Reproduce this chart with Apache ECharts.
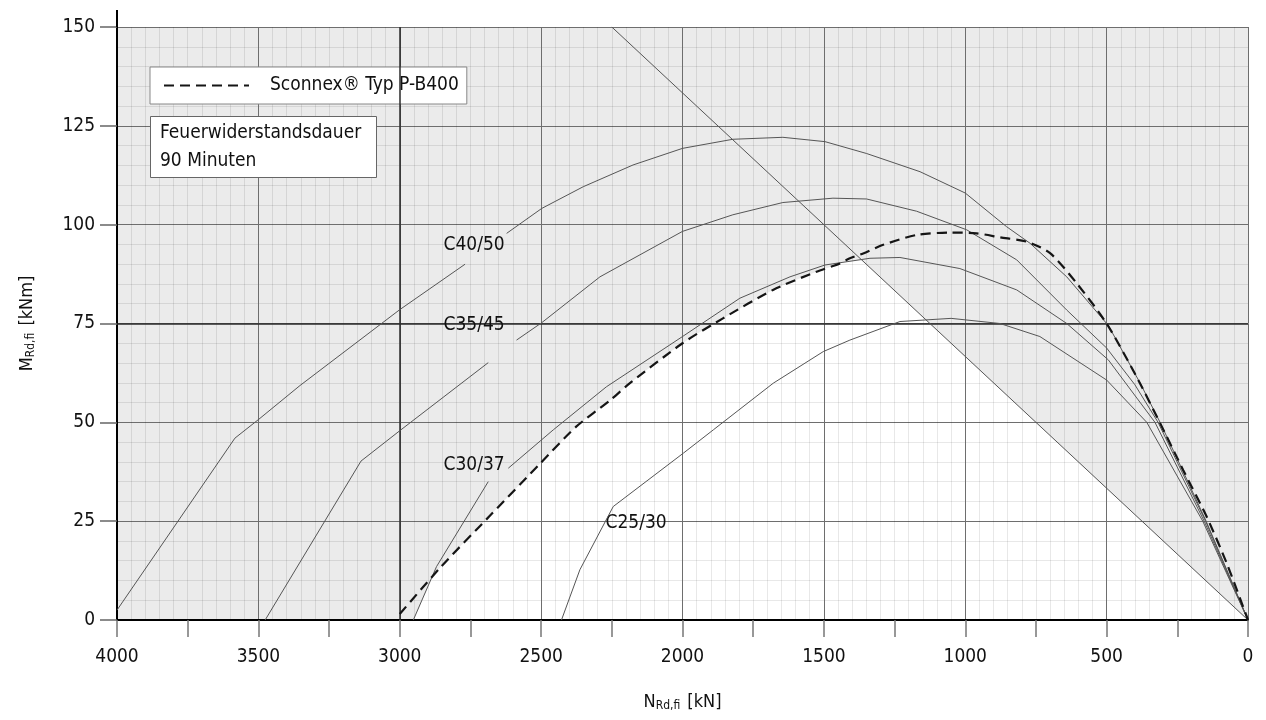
<!DOCTYPE html>
<html>
<head>
<meta charset="utf-8">
<script src="https://cdn.jsdelivr.net/npm/echarts@6/dist/echarts.min.js"></script>
<style>html,body{margin:0;padding:0;background:#fff}#c{width:1266px;height:720px}</style>
</head>
<body>
<div id="c"></div>
<script>
// ---- data (N [kN], M [kNm]) ----
const xTicks = [0, 500, 1000, 1500, 2000, 2500, 3000, 3500, 4000];
const yTicks = [0, 25, 50, 75, 100, 125, 150];
const c4050 = [[4000,2.5],[3583,46],[3498,50.8],[3353,59.3],[3000,78.5],[2769,90],[2700,null],[2622,97.8],[2498,104.1],[2351,109.6],[2175,115.1],[2000,119.3],[1822,121.6],[1645,122.1],[1496,121],[1349,118],[1160,113.4],[1000,108],[854,99.5],[771,95.3],[641,86.8],[494,74.5],[382,60],[311,50],[229,37.5],[148,25],[0,0]];
const c3545 = [[3476,0],[3137,40.2],[2996,48.1],[2687,65.1],[2640,null],[2587,70.8],[2498,75.2],[2292,86.8],[2000,98.3],[1822,102.5],[1645,105.6],[1468,106.7],[1349,106.5],[1172,103.4],[995,98.7],[818,91.1],[641,78.4],[500,68.8],[400,59.5],[318,50],[150,25],[0,0]];
const c3037 = [[2952,0],[2870,13.5],[2687,35],[2650,null],[2616,38.4],[2457,48.1],[2269,59],[2000,71.7],[1797,81.4],[1620,86.8],[1496,89.8],[1337,91.5],[1231,91.7],[1019,88.9],[818,83.5],[641,75],[494,65.8],[329,50],[155,25],[0,0]];
const c2530 = [[2428,0],[2363,12.7],[2245,28.7],[1997,42.2],[1891,48.1],[1679,59.9],[1502,67.9],[1408,70.8],[1231,75.5],[1050,76.3],[877,75],[736,71.7],[500,60.7],[358,50],[160,25],[0,0]];
const sconnex = [[3000,1.5],[2855,13.4],[2678,26.6],[2502,39.7],[2376,48.9],[2254,55.7],[2186,59.9],[2000,70],[1857,76.3],[1680,83.5],[1526,88.1],[1443,90.2],[1408,91.5],[1361,92.7],[1290,94.9],[1172,97.4],[1054,98],[960,97.8],[877,96.8],[783,95.7],[700,92.8],[606,85.2],[500,75],[394,61.5],[311,49.8],[229,37.9],[146,26.1],[75,14.3],[0,0]];
const limitLine = [[2250,150],[0,0]];

const FONT = "'DejaVu Sans Condensed','Liberation Sans Narrow',sans-serif";
const FS = 19;
const GRAY = '#ebebeb';
const chart = echarts.init(document.getElementById('c'));

function curve(name, data, labelText, coord) {
  const s = {
    name: name, type: 'line', data: data, xAxisIndex: 0, yAxisIndex: 0,
    showSymbol: false, symbol: 'none', connectNulls: false, z: 6, silent: true,
    lineStyle: { color: '#555', width: 1 }
  };
  if (labelText) {
    s.markPoint = {
      silent: true, symbol: 'circle', symbolSize: 0,
      label: { show: true, position: 'inside', formatter: labelText, color: '#111', fontSize: FS, fontFamily: FONT },
      data: [{ coord: coord }]
    };
  }
  return s;
}

const plain = v => String(v);

const option = {
  animation: false,
  backgroundColor: '#fff',
  textStyle: { fontFamily: FONT },
  grid: { left: 117, right: 18, top: 27, bottom: 100, show: true, backgroundColor: GRAY, borderWidth: 0 },
  title: {
    text: 'Feuerwiderstandsdauer\n90 Minuten',
    left: 150, top: 116,
    backgroundColor: '#fff', borderColor: '#666', borderWidth: 1,
    padding: [3, 16, 3, 10],
    textStyle: { fontSize: FS, fontWeight: 'normal', color: '#111', lineHeight: 28, fontFamily: FONT }
  },
  legend: {
    left: 150, top: 67,
    data: ['Sconnex® Typ P-B400'],
    backgroundColor: '#fff', borderColor: '#888', borderWidth: 1,
    padding: [9, 8, 9, 13],
    itemWidth: 85, itemHeight: 14,
    itemStyle: { color: 'rgba(0,0,0,0)', borderWidth: 0, opacity: 0 },
    textStyle: { fontSize: FS, color: '#111', fontFamily: FONT, padding: [0, 0, 0, 16] }
  },
  xAxis: [{
    type: 'value', inverse: true, min: xTicks[0], max: xTicks[xTicks.length - 1], interval: 500,
    position: 'bottom', z: 3,
    name: 'N{s|Rd,fi} [kN]', nameLocation: 'middle', nameGap: 72,
    nameTextStyle: { fontSize: 18, color: '#111', fontFamily: FONT, rich: { s: { fontSize: 12, verticalAlign: 'bottom', padding: [8, 2, 0, 0], fontFamily: FONT, color: '#111' } } },
    axisLine: { show: true, onZero: false, lineStyle: { color: '#000', width: 2 } },
    axisTick: { show: false },
    axisLabel: { margin: 28, fontSize: FS, color: '#111', fontFamily: FONT, formatter: plain },
    splitLine: { show: true, lineStyle: { color: '#6e6e6e', width: 1 } },
    minorTick: { show: false, splitNumber: 10 },
    minorSplitLine: { show: true, lineStyle: { color: 'rgba(0,0,0,0.09)', width: 1 } }
  }, {
    type: 'value', inverse: true, min: xTicks[0], max: xTicks[xTicks.length - 1], interval: 250,
    position: 'bottom', offset: 0, z: 3,
    axisLine: { show: false },
    axisTick: { show: true, length: 17, lineStyle: { color: '#777', width: 1.5 } },
    axisLabel: { show: false },
    splitLine: { show: false }
  }],
  yAxis: [{
    type: 'value', min: yTicks[0], max: yTicks[yTicks.length - 1], interval: 25, z: 3,
    name: 'M{s|Rd,fi} [kNm]', nameLocation: 'middle', nameGap: 80, nameRotate: 90,
    nameTextStyle: { fontSize: 18, color: '#111', fontFamily: FONT, rich: { s: { fontSize: 12, verticalAlign: 'bottom', padding: [8, 2, 0, 0], fontFamily: FONT, color: '#111' } } },
    axisLine: { show: true, onZero: false, lineStyle: { color: '#000', width: 2 } },
    axisTick: { show: true, length: 17, lineStyle: { color: '#666', width: 1.5 } },
    axisLabel: { margin: 22, fontSize: FS, color: '#111', fontFamily: FONT, formatter: plain },
    splitLine: { show: true, lineStyle: { color: '#6e6e6e', width: 1 } },
    minorTick: { show: false, splitNumber: 5 },
    minorSplitLine: { show: true, lineStyle: { color: 'rgba(0,0,0,0.09)', width: 1 } }
  }],
  series: [
    { type: 'line', data: c3037, connectNulls: true, showSymbol: false, symbol: 'none', z: 1, silent: true,
      lineStyle: { width: 0 }, areaStyle: { color: '#fff', opacity: 1, origin: 'start' } },
    { type: 'line', data: sconnex, smooth: 0.25, connectNulls: true, showSymbol: false, symbol: 'none', z: 1, silent: true,
      lineStyle: { width: 0 }, areaStyle: { color: GRAY, opacity: 1, origin: 'end' } },
    { type: 'line', data: limitLine, showSymbol: false, symbol: 'none', z: 1, silent: true,
      lineStyle: { width: 0 }, areaStyle: { color: GRAY, opacity: 1, origin: 'end' } },
    { type: 'line', data: [], z: 4, silent: true,
      markLine: { silent: true, symbol: 'none', label: { show: false },
        lineStyle: { color: '#2a2a2a', width: 1.5, type: 'solid' },
        data: [{ xAxis: 3000 }, { yAxis: 75 }] } },
    curve('C40/50', c4050, 'C40/50', [2737, 94.8]),
    curve('C35/45', c3545, 'C35/45', [2737, 74.5]),
    curve('C30/37', c3037, 'C30/37', [2737, 39.3]),
    curve('C25/30', c2530, 'C25/30', [2164, 24.5]),
    curve('limit', limitLine),
    { name: 'Sconnex® Typ P-B400', type: 'line', data: sconnex, smooth: 0.25, showSymbol: false, symbol: 'none', z: 7, silent: true,
      lineStyle: { color: '#151515', width: 2.2, type: [10, 6] }, itemStyle: { color: '#151515' } }
  ]
};
chart.setOption(option);

const axisTopPx = chart.convertToPixel({ xAxisIndex: 0, yAxisIndex: 0 }, [4000, 150]);
chart.setOption({
  graphic: [{ type: 'line', silent: true, z: 10,
    shape: { x1: axisTopPx[0], y1: axisTopPx[1], x2: axisTopPx[0], y2: axisTopPx[1] - 17 },
    style: { stroke: '#000', lineWidth: 2 } }]
});
</script>
</body>
</html>
